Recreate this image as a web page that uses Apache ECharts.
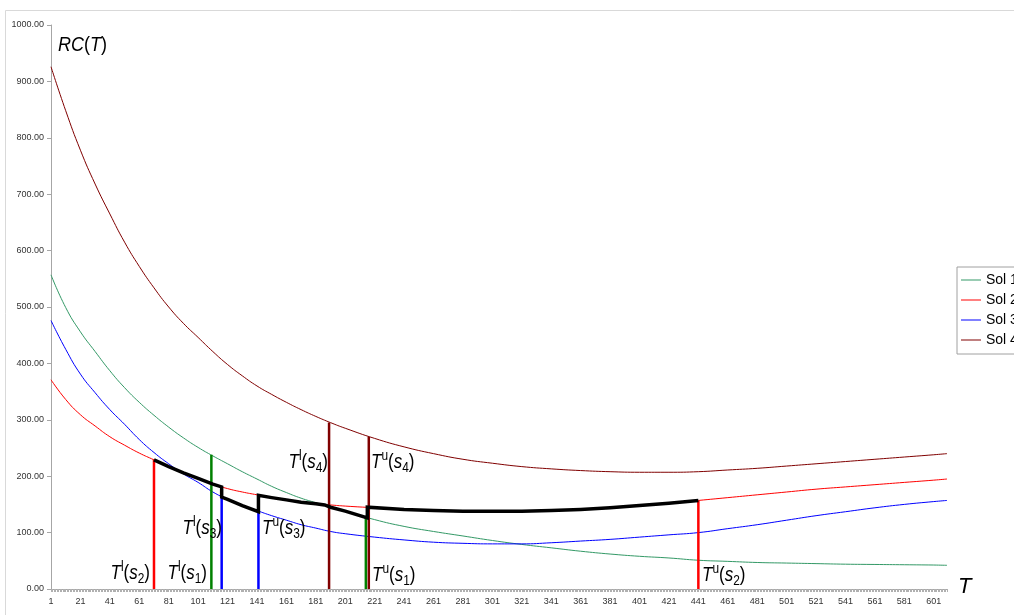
<!DOCTYPE html>
<html>
<head>
<meta charset="utf-8">
<script src="https://cdn.jsdelivr.net/npm/echarts@6/dist/echarts.min.js"></script>
<style>
  html, body { margin: 0; padding: 0; background: #fff; }
  #main { width: 1014px; height: 615px; }
</style>
</head>
<body>
<div id="main"></div>
<script>
// category labels 1..610 (period T)
var periods = [];
for (var k = 1; k <= 610; k++) periods.push(String(k));

// sample points
var sampleT = [1, 11, 21, 31, 41, 51, 61, 71, 81, 91, 101, 111, 121, 131, 141, 151, 161, 171, 181, 191,
  201, 221, 241, 261, 281, 301, 321, 341, 361, 381, 401, 421, 441, 461, 481, 501, 521, 541, 561, 581, 601, 610];

var sol1 = [557, 499, 456, 421, 387, 357, 331, 308, 287, 268, 251, 236, 222, 208, 195, 182, 171, 161, 153, 145,
  138, 123, 111, 102, 94, 86, 79, 73, 67, 62, 58, 55, 51, 49, 47, 46, 45, 44, 43.5, 43, 42.5, 42];
var sol2 = [371, 336, 309, 289, 270, 255, 241, 229, 217, 206, 196, 186, 178, 172, 167, 162, 158, 154, 151, 149,
  147, 144, 141, 139, 138, 138, 138, 139, 141, 144, 148, 152, 157, 162, 167, 172, 177, 181, 185, 189, 193, 195];
var sol3 = [476, 425, 381, 348, 318, 292, 265, 242, 222, 204, 189, 172, 159, 148, 139, 130, 122, 114, 108, 102,
  98, 92, 87, 83, 81, 80, 80, 82, 85, 88, 92, 96, 100, 107, 114, 122, 130, 137, 144, 150, 155, 157];
var sol4 = [926, 848, 778, 718, 665, 615, 572, 534, 500, 471, 446, 421, 398, 378, 360, 345, 331, 318, 306, 295,
  285, 267, 252, 240, 230, 223, 217, 213, 210, 208, 207, 207, 208, 211, 214, 218, 222, 226, 230, 234, 238, 240];

// lower envelope (thick black)
var envT = [71, 81, 91, 101, 111, 117, 117, 121, 131, 142, 142, 151, 161, 171, 181, 187, 191, 201, 216, 216,
  241, 261, 281, 301, 321, 341, 361, 381, 401, 421, 441];
var envV = [229, 217, 206, 196, 186, 181, 163, 159, 148, 137, 166, 162, 158, 154, 151, 149, 145, 138, 126, 145,
  141, 139, 138, 138, 138, 139, 141, 144, 148, 152, 157];

// vertical bounds T^l / T^u
var boundT   = [71, 110, 117, 142, 190, 215, 217, 441];
var boundTop = [229, 238, 163, 137, 295, 127, 270, 157];
var boundColors = ['#ff0000', '#008000', '#0000ff', '#0000ff', '#800000', '#008000', '#800000', '#ff0000'];

var yTicks = [0, 100, 200, 300, 400, 500, 600, 700, 800, 900, 1000];

function pairs(ts, vs) {
  var out = [];
  for (var i = 0; i < ts.length; i++) out.push([String(ts[i]), vs[i]]);
  return out;
}

var FONT = 'Liberation Sans, Arial, sans-serif';

function curve(name, color, vals) {
  return {
    name: name, type: 'line', data: pairs(sampleT, vals), smooth: true,
    symbol: 'none', lineStyle: { color: color, width: 1 }, itemStyle: { color: color },
    z: 2, silent: true
  };
}

var series = [
  curve('Sol 1', '#339966', sol1),
  curve('Sol 2', '#ff0000', sol2),
  curve('Sol 3', '#0000ff', sol3),
  curve('Sol 4', '#800000', sol4)
];

for (var b = 0; b < boundT.length; b++) {
  series.push({
    name: 'bound' + b, type: 'line', symbol: 'none', silent: true, z: 3,
    data: [[String(boundT[b]), 0], [String(boundT[b]), boundTop[b]]],
    lineStyle: { color: boundColors[b], width: 2.5 }
  });
}

series.push({
  name: 'envelope', type: 'line', symbol: 'none', silent: true, z: 4,
  data: pairs(envT, envV),
  lineStyle: { color: '#000', width: 3.5, join: 'miter' }
});

var rich = {
  i:   { fontFamily: FONT, fontSize: 20, fontStyle: 'italic', lineHeight: 26, verticalAlign: 'middle', fill: '#000' },
  n:   { fontFamily: FONT, fontSize: 20, lineHeight: 26, verticalAlign: 'middle', fill: '#000' },
  sup: { fontFamily: FONT, fontSize: 14, lineHeight: 26, verticalAlign: 'top', fill: '#000' },
  sub: { fontFamily: FONT, fontSize: 14, lineHeight: 26, verticalAlign: 'bottom', fill: '#000' }
};

function tag(sup, sub, x, y, align) {
  return {
    type: 'text', x: x, y: y, z: 10, scaleX: 0.85,
    style: {
      text: '{i|T}{sup|' + sup + '}{n|(}{i|s}{sub|' + sub + '}{n|)}',
      rich: rich, align: align, verticalAlign: 'middle'
    }
  };
}

var myChart = echarts.init(document.getElementById('main'), null, { renderer: 'canvas' });

var legendNames = ['Sol 1', 'Sol 2', 'Sol 3', 'Sol 4'];

var option = {
  backgroundColor: '#fff',
  animation: false,
  grid: { left: 51, right: 67, top: 25, bottom: 26, containLabel: false },
  legend: {
    data: legendNames.map(function (n) { return { name: n, icon: 'rect' }; }),
    orient: 'vertical', left: 957, top: 267,
    itemWidth: 20, itemHeight: 1, itemGap: 6,
    padding: [6, 6, 7, 4],
    borderColor: '#a0a0a0', borderWidth: 1,
    textStyle: { fontFamily: FONT, fontSize: 14, color: '#000' }
  },
  xAxis: {
    type: 'category', data: periods, boundaryGap: false,
    axisLine: { lineStyle: { color: '#a6a6a6' } },
    axisTick: { interval: 0, length: 3, lineStyle: { color: '#b0b0b0' } },
    axisLabel: { interval: 19, fontFamily: FONT, fontSize: 9, color: '#333', margin: 8 },
    splitLine: { show: false }
  },
  yAxis: {
    type: 'value', min: yTicks[0], max: yTicks[yTicks.length - 1], interval: 100,
    axisLine: { show: true, lineStyle: { color: '#a6a6a6' } },
    axisTick: { show: true, length: 4, lineStyle: { color: '#a6a6a6' } },
    axisLabel: { fontFamily: FONT, fontSize: 9, color: '#333', margin: 7,
      formatter: function (v) { return v.toFixed(2); } },
    splitLine: { show: false }
  },
  graphic: [
    { type: 'rect', shape: { x: 5.5, y: 10.5, width: 1030, height: 630 },
      style: { fill: 'none', stroke: '#d9d9d9', lineWidth: 1 }, z: -1 },
    { type: 'text', x: 58, y: 45, z: 10, scaleX: 0.9,
      style: { text: '{i|RC}{n|(}{i|T}{n|)}', rich: rich, align: 'left', verticalAlign: 'middle' } },
    { type: 'text', x: 958, y: 587, z: 10,
      style: { text: 'T', fontFamily: FONT, fontSize: 22, fontStyle: 'italic', fill: '#000',
        align: 'left', verticalAlign: 'middle' } },
    tag('l', '2', 150, 573, 'right'),
    tag('l', '1', 207, 573, 'right'),
    tag('l', '3', 222, 528, 'right'),
    tag('u', '3', 262, 528, 'left'),
    tag('l', '4', 328, 462, 'right'),
    tag('u', '4', 371, 462, 'left'),
    tag('u', '1', 372, 575, 'left'),
    tag('u', '2', 702, 575, 'left')
  ],
  series: series
};

myChart.setOption(option);
</script>
</body>
</html>
